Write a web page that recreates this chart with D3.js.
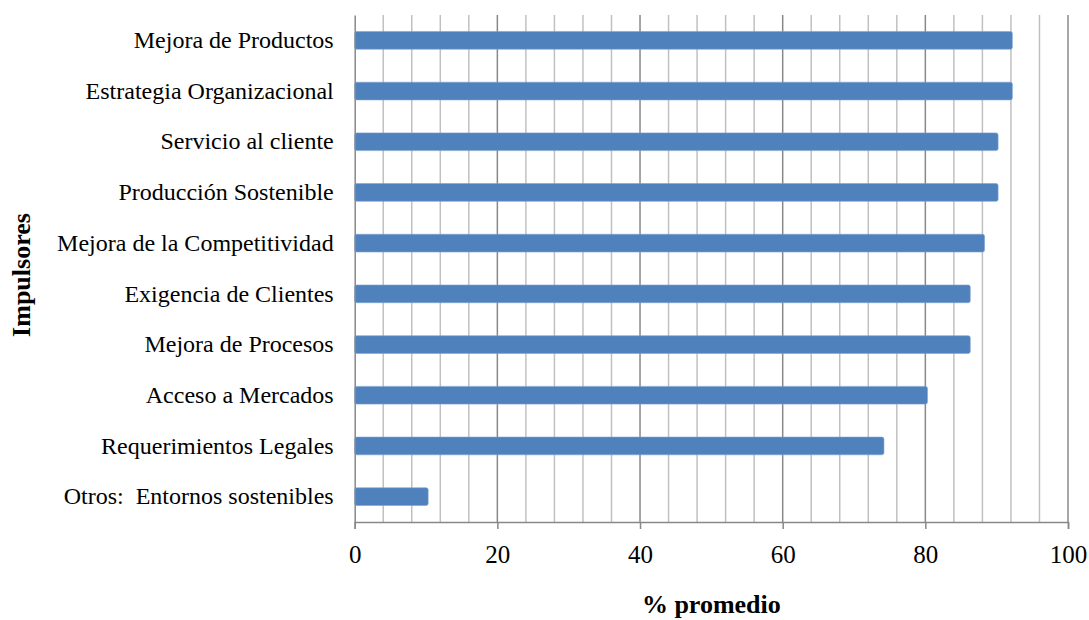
<!DOCTYPE html>
<html><head><meta charset="utf-8">
<script src="https://cdn.jsdelivr.net/npm/d3@7"></script>
<style>
body{margin:0;background:#fff;}
svg text{font-family:"Liberation Serif","Times New Roman",Tinos,serif !important;fill:#000;}
</style></head>
<body><svg id="c" width="1089" height="620"></svg>
<script>
const categories = ["Mejora de Productos","Estrategia Organizacional","Servicio al cliente","Producción Sostenible","Mejora de la Competitividad","Exigencia de Clientes","Mejora de Procesos","Acceso a Mercados","Requerimientos Legales","Otros:  Entornos sostenibles"];
const values = [92.2, 92.2, 90.2, 90.2, 88.3, 86.3, 86.3, 80.3, 74.2, 10.3];
const xTicks = [0,20,40,60,80,100];
const xTitle = "% promedio";
const yTitle = "Impulsores";

const svg = d3.select("#c");
const L = 354.7, R = 1068, T = 15, B = 522;
const x = d3.scaleLinear().domain([0,100]).range([L,R]);
const y = d3.scaleBand().domain(categories).range([T,B]).paddingInner(0.65).paddingOuter(0.325);

const minor = d3.range(4,101,4).filter(v=>v%20!==0);
svg.append("g").selectAll("line").data(minor).join("line")
  .attr("x1",d=>x(d)).attr("x2",d=>x(d)).attr("y1",T).attr("y2",B)
  .attr("stroke","#c0c0c0").attr("stroke-width",1.5);
svg.append("g").selectAll("line").data(xTicks.filter(v=>v>0)).join("line")
  .attr("x1",d=>x(d)).attr("x2",d=>x(d)).attr("y1",T).attr("y2",B)
  .attr("stroke","#888").attr("stroke-width",1.5);

svg.append("g").selectAll("rect").data(values).join("rect")
  .attr("x",x(0)).attr("y",(d,i)=>y(categories[i]))
  .attr("width",d=>x(d)-x(0)).attr("height",y.bandwidth())
  .attr("rx",2).attr("fill","#4f81bd").attr("stroke","#7ea3d0").attr("stroke-width",0.6);

const xa = svg.append("g").attr("transform",`translate(0,${B})`)
  .call(d3.axisBottom(x).tickValues(xTicks).tickSize(7).tickPadding(16));
xa.attr("font-family",null).attr("font-size",null);
xa.select(".domain").attr("stroke","#888").attr("stroke-width",1.5);
xa.selectAll(".tick line").attr("stroke","#888").attr("stroke-width",1.5);
xa.selectAll("text").style("font-size","25px").attr("fill","#000");

const ya = svg.append("g").attr("transform",`translate(${L},0)`)
  .call(d3.axisLeft(y).tickSize(0).tickPadding(21));
ya.attr("font-family",null).attr("font-size",null);
ya.select(".domain").attr("stroke","#888").attr("stroke-width",1.5);
ya.selectAll("text").style("font-size","24px").style("white-space","pre").attr("fill","#000");

svg.append("text").attr("x",x(50)).attr("y",613).attr("text-anchor","middle")
  .style("font-size","26px").style("font-weight","bold").text(xTitle);
svg.append("text").attr("transform",`translate(30,275) rotate(-90)`).attr("text-anchor","middle")
  .style("font-size","26px").style("font-weight","bold").text(yTitle);
</script></body></html>
